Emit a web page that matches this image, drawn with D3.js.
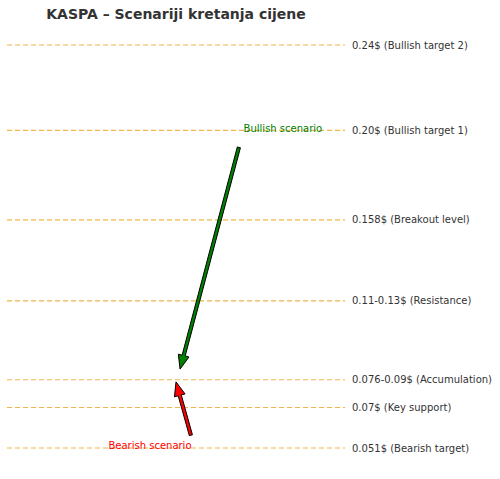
<!DOCTYPE html>
<html>
<head>
<meta charset="utf-8">
<script src="https://d3js.org/d3.v7.min.js"></script>
<style>body{margin:0;background:#fff;font-family:"DejaVu Sans",sans-serif;}</style>
</head>
<body>
<svg width="500" height="479"></svg>
<script>
// price levels and their labels
var levels = [0.24, 0.20, 0.158, 0.12, 0.083, 0.07, 0.051];
var levelLabels = ["0.24$ (Bullish target 2)", "0.20$ (Bullish target 1)", "0.158$ (Breakout level)",
  "0.11-0.13$ (Resistance)", "0.076-0.09$ (Accumulation)", "0.07$ (Key support)", "0.051$ (Bearish target)"];
// scenario arrows: [x0, y0, x1, y1]
var scenarioNames = ["Bullish scenario", "Bearish scenario"];
var scenarioArrows = [[6.86, 0.192, 5.12, 0.088], [5.44, 0.057, 5.0, 0.082]];
var scenarioText = [[7.0, 0.201], [4.23, 0.052]];
var scenarioColors = ["green", "red"];
var scenarioAnchor = ["start", "middle"];

var svg = d3.select("svg");
var x = d3.scaleLinear().domain([0, 10]).range([7, 345]);
var y = d3.scaleLinear().domain([0.051, 0.24]).range([448, 45]);

svg.append("text").attr("x", 176).attr("y", 19).attr("text-anchor", "middle")
  .attr("font-size", 14).attr("font-weight", "bold").attr("fill", "#333")
  .text("KASPA – Scenariji kretanja cijene");

svg.selectAll("line.lvl").data(levels).enter().append("line")
  .attr("x1", x(0)).attr("x2", x(10))
  .attr("y1", d => y(d)).attr("y2", d => y(d))
  .attr("stroke", "#f0b84a").attr("stroke-width", 1.2).attr("stroke-dasharray", "5,3");

svg.selectAll("text.lvl").data(levels).enter().append("text")
  .attr("x", 352).attr("y", d => y(d)).attr("dy", "0.35em")
  .attr("font-size", 10).attr("fill", "#333")
  .text((d, i) => levelLabels[i]);

function arrowPath(a) {
  var x0 = x(a[0]), y0 = y(a[1]), x1 = x(a[2]), y1 = y(a[3]);
  var dx = x1 - x0, dy = y1 - y0, L = Math.sqrt(dx * dx + dy * dy);
  var ux = dx / L, uy = dy / L, px = -uy, py = ux;
  var hl = 14, hw = 5.5, sw = 1.6;
  var bx = x1 - ux * hl, by = y1 - uy * hl;
  var pts = [[x0 + px * sw, y0 + py * sw], [bx + px * sw, by + py * sw], [bx + px * hw, by + py * hw],
    [x1, y1], [bx - px * hw, by - py * hw], [bx - px * sw, by - py * sw], [x0 - px * sw, y0 - py * sw]];
  return "M" + pts.map(p => p.join(",")).join("L") + "Z";
}

svg.selectAll("path.arr").data(scenarioArrows).enter().append("path")
  .attr("d", arrowPath)
  .attr("fill", (d, i) => scenarioColors[i]).attr("stroke", "#000").attr("stroke-width", 1);

svg.selectAll("text.sc").data(scenarioText).enter().append("text")
  .attr("x", d => x(d[0])).attr("y", d => y(d[1])).attr("dy", "0.35em")
  .attr("text-anchor", (d, i) => scenarioAnchor[i])
  .attr("font-size", 10).attr("fill", (d, i) => scenarioColors[i])
  .text((d, i) => scenarioNames[i]);
</script>
</body>
</html>
